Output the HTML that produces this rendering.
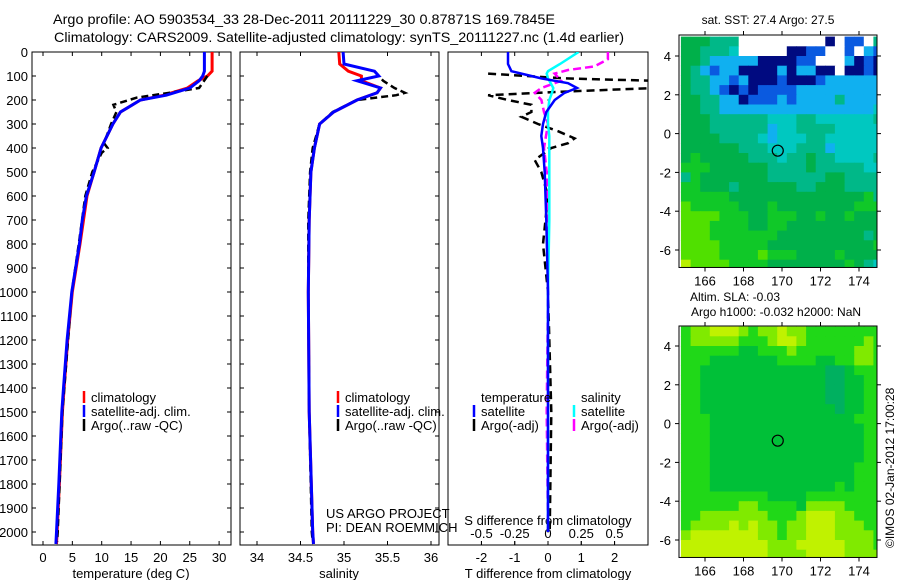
<!DOCTYPE html>
<html><head><meta charset="utf-8"><style>
body{margin:0;background:#fff}
svg{display:block;font-family:"Liberation Sans",sans-serif}
</style></head><body>
<svg id="c" width="900" height="580" viewBox="0 0 900 580">
<text x="53" y="24" font-size="14" textLength="502" lengthAdjust="spacingAndGlyphs">Argo profile: AO 5903534_33 28-Dec-2011 20111229_30 0.87871S 169.7845E</text>
<text x="54" y="42" font-size="14" textLength="570" lengthAdjust="spacingAndGlyphs">Climatology: CARS2009. Satellite-adjusted climatology: synTS_20111227.nc (1.4d earlier)</text>
<g id="g"></g>
</svg>
<script>
// ---------- data ----------
const tempDepth=[0,80,100,120,150,180,200,250,300,400,500,600,700,800,1000,1200,1400,1500,1800,2000,2050];
const tempClim=[28.8,28.8,28.0,26.4,24.6,20.6,16.6,13.2,11.9,9.9,8.7,7.5,6.9,6.3,5.0,4.2,3.6,3.3,2.8,2.4,2.3];
const tempSat=[27.5,27.5,27.2,26.6,25.0,21.0,16.6,13.2,11.9,9.9,8.7,7.4,6.7,6.2,4.9,4.1,3.5,3.2,2.7,2.3,2.2];
const argoTDepth=[100,150,170,190,220,250,300,380,400,420,500,600,800,1000,1500,2000,2040];
const argoT=[28.0,26.6,21.5,16.0,12.0,12.5,11.6,10.4,11.0,10.0,8.4,7.2,6.1,4.9,3.3,2.5,2.4];
const salDepth=[0,50,80,100,120,150,170,200,250,300,400,500,700,1000,1500,2000,2050];
const salClim=[34.94,34.95,35.05,35.2,35.2,35.42,35.38,35.15,34.88,34.72,34.66,34.62,34.6,34.59,34.6,34.64,34.65];
const salSat=[34.99,35.0,35.35,35.4,35.15,35.42,35.38,35.15,34.88,34.72,34.66,34.62,34.6,34.59,34.6,34.64,34.65];
const argoSDepth=[80,120,150,170,180,200,250,300,400,500,700,1000,1500,2000,2040];
const argoS=[35.35,35.45,35.58,35.7,35.6,35.15,34.87,34.72,34.64,34.61,34.59,34.59,34.6,34.63,34.64];
const difDepth=[0,50,80,90,110,130,150,170,200,250,300,350,400,500,700,1000,1500,2000];
const difTSat=[-1.2,-1.2,-1.1,-0.8,-0.2,0.6,0.87,0.5,0.2,-0.05,-0.15,-0.2,-0.15,-0.1,-0.05,0,0,0];
const difSSat=[0.23,0.09,0.0,-0.01,0.0,0.02,0.04,0.03,0.01,0.0,0.0,0.01,0.01,0.01,0.01,0.0,0.0,0.0];
const argoTDifDepth=[90,110,120,130,150,165,180,200,220,250,270,300,330,360,380,400,450,500,600,800,1000,1500,2000];
const argoTDif=[-1.8,0.5,3.2,3.2,3.2,0.5,-1.8,-1.2,-0.5,-0.5,-0.8,-0.3,0.3,0.8,0.6,0.1,-0.4,-0.2,0.0,-0.15,0.0,0.1,0.05];
const argoSDifDepth=[0,30,60,75,90,120,150,170,200,250,300,400,500,700,1000,1500,2000];
const argoSDif=[0.45,0.45,0.35,0.15,0.05,0.1,-0.05,-0.1,-0.05,-0.03,0.0,-0.03,-0.01,0.0,0.0,-0.01,0.0];
const depthTicks=[0,100,200,300,400,500,600,700,800,900,1000,1100,1200,1300,1400,1500,1600,1700,1800,1900,2000];
const tempTicks=[0,5,10,15,20,25,30];
const salTicks=[34,34.5,35,35.5,36];
const tdTicks=[-2,-1,0,1,2];
const sdTicks=[-0.5,-0.25,0,0.25,0.5];
const sdTickLabels=["-0.5","-0.25","0","0.25","0.5"];
const lonTicks=[166,168,170,172,174];
const latTicks=[4,2,0,-2,-4,-6];
const argoLon=169.78, argoLat=-0.88;
const sstRows=[
"GGGTTTWWWWWWWWWNWBBWT","GGTTTCWWWWWNNBBWWBWLB","GGTLLLLLNNNNBBWWWLNBN","GTLBLLNNNNLNLLNNWNNBN",
"GTTLLBLNNNBNNNBLLLLLL","GTTLBNBNBBBBLLLLLLLLL","GGTTLLNBBBLBLLLLTLLLL","GGTTLLLLLLLLLLLLLLLLC",
"GGGTTTTTTCCCTTCCCCCCT","GGGTTTTTTLCCTTTTCCCCC","GGGGTTTTCLCCCTTCCCCCC","GGGGGGTTTCCCTTTLCCCCC",
"GgGGGGGTTTCTTGTTCCCCT","gggGGGGGGTTTTGTTTTTCC","TgGGGGGGGTTTTTTGGTTTT","ggGGGTGGGGGGTTGGGTTTT",
"gggggGGGGGGGGGGGGGGgT","YgggggGGGgGGGGGGGGggg","YYYYgggGGgggGGgGGgGGG","YYYggggGGggGGGGGGGGGG",
"YYYgggggggGGGGGGGGGTG","YYYYgggggGGGGGGGGGGGg","YYYYggggYgggGGGGgGGGG","yYYYYggggGGGGGGGGgGTC"];
const slaRows=[
"gYYyyyYgYYyYYgggggggg","gYYYYYgggYyyYggggggYg","ggggggGGgggYggggggYYg","gggGGGGGGGggggGGggYYg",
"ggGGGGGGGGGGGGGTTGggg","ggGGGGGGGGGGGGGTTGGgg","ggGGGGGGGGGGGGGTTGGgg","ggGGGGGGGGGGGGGTTGGgg",
"ggGGGGGGGGGGGGGGTGGgg","gggGGGGGGGGGGGGGGGggg","gggGGGGGGGGGGGGGGGGgg","gggGGGGGGGGGGGGGGGGgg",
"gggGGGGGGGGGGGGGGGGgg","gggGGGGGGGGGGGGGGGGgg","gggGGGGGGGGGGGGGGGggg","gggGGGGGGGGGGGGGGGggg",
"gggGGGGGGGGGGGGGgGggg","gggggggggGGGGgggggggg","ggggggYYggggGYYYYgggg","ggYYYYYYYgggYyyyYYggg",
"gYYYYyYyYYgYYyyyYYYgg","YyyyyyyyYYgYYyyyYYYYg","yyyyyyyyyYYYyyyyyYYYg","yyyyyyyyyYYYYyyyyYYYY"];
const sstColors={W:"#ffffff",N:"#000a80",B:"#0a5ae0",L:"#10b0f0",C:"#00c8c0",T:"#00b888",G:"#00b04a",g:"#10c828",Y:"#50e000",y:"#b8f000"};
const slaColors={G:"#00c038",g:"#20d818",Y:"#80ea00",y:"#c0f200",T:"#00b060"};

// ---------- helpers ----------
const NS="http://www.w3.org/2000/svg";
const G=document.getElementById('g');
function mk(tag,attrs,parent){const e=document.createElementNS(NS,tag);for(const k in attrs)e.setAttribute(k,attrs[k]);(parent||G).appendChild(e);return e;}
const yD=d=>52+d*0.24;
function line(xs,ds,fx,color,w,dash,name,clip){
  const p=xs.map((v,i)=>fx(v).toFixed(1)+","+yD(ds[i]).toFixed(1)).join(" ");
  const el=mk('polyline',{points:p,fill:"none",stroke:color,"stroke-width":w});
  if(dash)el.setAttribute('stroke-dasharray',dash);
  if(clip)el.setAttribute('clip-path','url(#'+clip+')');
  
  
}
function txt(x,y,s,size,anchor,name){const t=mk('text',{x:x,y:y,"font-size":size,"text-anchor":anchor||"start"});t.textContent=s;
  
  
  return t;}
function frame(x0,x1,name){const r=mk('rect',{x:x0,y:52,width:x1-x0,height:493,fill:"none",stroke:"#000","stroke-width":1});
  
  
  const cp=mk('clipPath',{id:name+"-clip"});mk('rect',{x:x0,y:52,width:x1-x0,height:493},cp);}
function vtick(x,y0,len){mk('line',{x1:x,x2:x,y1:y0,y2:y0+len,stroke:"#000"});}

// ---------- panel 1 temperature ----------
const xT=v=>43+v*5.87;
frame(32,231,"temperature-panel");
depthTicks.forEach(d=>{mk('line',{x1:32,x2:36,y1:yD(d),y2:yD(d),stroke:"#000"});mk('line',{x1:227,x2:231,y1:yD(d),y2:yD(d),stroke:"#000"});
  txt(28,yD(d)+5,String(d),13,"end","depth-tick-label");});
tempTicks.forEach(t=>{vtick(xT(t),545,-4);vtick(xT(t),52,4);txt(xT(t),562,String(t),13,"middle","temperature-tick-label");});
txt(131,578,"temperature (deg C)",13,"middle","temperature-axis-title");
line(tempClim,tempDepth,xT,"#ff0000",3,null,"temperature-climatology-line","temperature-panel-clip");
line(argoT,argoTDepth,xT,"#000",2.5,"7,4","temperature-argo-line","temperature-panel-clip");
line(tempSat,tempDepth,xT,"#0000ff",3,null,"temperature-satellite-line","temperature-panel-clip");
function legend(x,y,pre){
  [["#ff0000","climatology"],["#0000ff","satellite-adj. clim."],["#000","Argo(..raw -QC)"]].forEach((e,i)=>{
    mk('line',{x1:x,x2:x,y1:y+i*14-11,y2:y+i*14+1,stroke:e[0],"stroke-width":2.5});
    txt(x+7,y+i*14,e[1],13,"start",pre+"-legend-entry");});
}
legend(84,402,"temperature");

// ---------- panel 2 salinity ----------
const xS=v=>257+(v-34)*87;
frame(240,439,"salinity-panel");
depthTicks.forEach(d=>{mk('line',{x1:240,x2:244,y1:yD(d),y2:yD(d),stroke:"#000"});mk('line',{x1:435,x2:439,y1:yD(d),y2:yD(d),stroke:"#000"});});
salTicks.forEach(t=>{vtick(xS(t),545,-4);vtick(xS(t),52,4);txt(xS(t),562,String(t),13,"middle","salinity-tick-label");});
txt(339,578,"salinity",13,"middle","salinity-axis-title");
line(salClim,salDepth,xS,"#ff0000",3,null,"salinity-climatology-line","salinity-panel-clip");
line(argoS,argoSDepth,xS,"#000",2.5,"7,4","salinity-argo-line","salinity-panel-clip");
line(salSat,salDepth,xS,"#0000ff",3,null,"salinity-satellite-line","salinity-panel-clip");
legend(338,402,"salinity");
txt(326,518,"US ARGO PROJECT",13,"start","project-credit");
txt(326,532,"PI: DEAN ROEMMICH",13,"start","pi-credit");

// ---------- panel 3 differences ----------
const xTD=v=>548+v*33.3;
const xSD=v=>548+v*133;
frame(448,648,"difference-panel");
for(let d=100;d<=2000;d+=100){mk('circle',{cx:548,cy:yD(d),r:0.6,fill:"#000"});}
tdTicks.forEach(t=>{vtick(xTD(t),545,-4);vtick(xTD(t),52,4);txt(xTD(t),562,String(t),13,"middle","t-difference-tick-label");});
sdTicks.forEach((t,i)=>{vtick(xSD(t),545,-4);txt(xSD(t),538,sdTickLabels[i],13,"middle","s-difference-tick-label");});
txt(548,525,"S difference from climatology",13,"middle","s-difference-axis-title");
txt(548,578,"T difference from climatology",13,"middle","t-difference-axis-title");
line(argoTDif,argoTDifDepth,xTD,"#000",2.5,"8,5","t-difference-argo-line","difference-panel-clip");
line(argoSDif,argoSDifDepth,xSD,"#ff00ff",2.5,"8,4","s-difference-argo-line","difference-panel-clip");
line(difSSat,difDepth,xSD,"#00ffff",2.5,null,"s-difference-satellite-line","difference-panel-clip");
line(difTSat,difDepth,xTD,"#0000ff",2.5,null,"t-difference-satellite-line","difference-panel-clip");
txt(481,402,"temperature",13,"start","difference-legend-temperature-header");
txt(581,402,"salinity",13,"start","difference-legend-salinity-header");
[["#0000ff","satellite",474],["#000","Argo(-adj)",474],["#00ffff","satellite",574],["#ff00ff","Argo(-adj)",574]].forEach((e,i)=>{
  const y=416+(i%2)*14;
  mk('line',{x1:e[2],x2:e[2],y1:y-11,y2:y+1,stroke:e[0],"stroke-width":2.5});
  txt(e[2]+7,y,e[1],13,"start","difference-legend-entry");});

// ---------- maps ----------
function map(rows,colors,top,latY,name){
  const xL=lon=>705+(lon-166)*19.25;
  const yL=lat=>latY+(4-lat)*19.4;
  const x0=679,x1=877,y1=yL(-6.9);
  const cp=mk('clipPath',{id:name+"-clip"});mk('rect',{x:x0,y:top,width:x1-x0,height:y1-top},cp);
  const g=mk('g',{"clip-path":"url(#"+name+"-clip)"});
  
  
  rows.forEach((r,i)=>{for(let j=0;j<r.length;j++){
    const lon=164.75+j*0.5, lat=5-i*0.5;
    mk('rect',{x:xL(lon).toFixed(1),y:yL(lat).toFixed(1),width:10.2,height:10.2,fill:colors[r[j]]},g);
  }});
  const f=mk('rect',{x:x0,y:top,width:x1-x0,height:y1-top,fill:"none",stroke:"#000"});
  
  
  lonTicks.forEach(l=>{vtick(xL(l),top,-4);vtick(xL(l),y1,4);txt(xL(l),y1+18,String(l),13,"middle",name+"-lon-tick-label");});
  latTicks.forEach(l=>{mk('line',{x1:x0-4,x2:x0,y1:yL(l),y2:yL(l),stroke:"#000"});mk('line',{x1:x1,x2:x1+4,y1:yL(l),y2:yL(l),stroke:"#000"});
    txt(x0-8,yL(l)+5,String(l),13,"end",name+"-lat-tick-label");});
  const c=mk('circle',{cx:xL(argoLon),cy:yL(argoLat),r:5.5,fill:"none",stroke:"#000","stroke-width":1.2});
  
  
}
map(sstRows,sstColors,35,56,"sst-map");
txt(768,24,"sat. SST: 27.4  Argo: 27.5",12,"middle","sst-map-title");
map(slaRows,slaColors,326,346,"sla-map");
txt(735,301,"Altim. SLA: -0.03",12,"middle","sla-map-title-1");
txt(776,316,"Argo h1000: -0.032 h2000: NaN",12,"middle","sla-map-title-2");
const st=txt(0,0,"©IMOS 02-Jan-2012 17:00:28",12,"start","imos-timestamp");
st.setAttribute('transform','translate(894,548) rotate(-90)');
</script>
</body></html>
